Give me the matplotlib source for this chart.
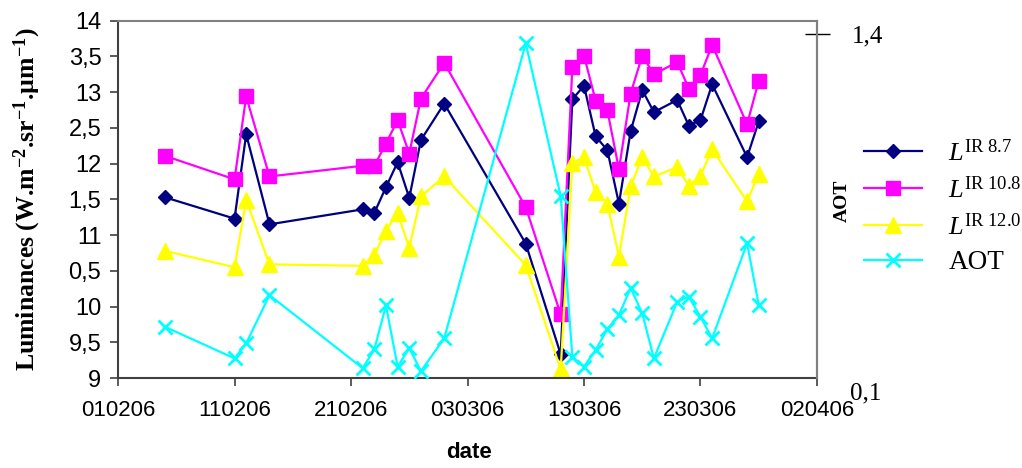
import matplotlib
matplotlib.use('Agg')

import matplotlib.pyplot as plt
import matplotlib.dates as mdates
from datetime import datetime
import numpy as np

plt.rcParams['font.family'] = 'Liberation Sans'
plt.rcParams['mathtext.fontset'] = 'custom'
plt.rcParams['mathtext.rm'] = 'Liberation Serif'
plt.rcParams['mathtext.it'] = 'Liberation Serif:italic'
plt.rcParams['mathtext.bf'] = 'Liberation Serif:bold'

# measurement dates (yyyy-mm-dd)
dates = ['2006-02-05', '2006-02-11', '2006-02-12', '2006-02-14', '2006-02-22',
         '2006-02-23', '2006-02-24', '2006-02-25', '2006-02-26', '2006-02-27',
         '2006-03-01', '2006-03-08', '2006-03-11', '2006-03-12', '2006-03-13',
         '2006-03-14', '2006-03-15', '2006-03-16', '2006-03-17', '2006-03-18',
         '2006-03-19', '2006-03-21', '2006-03-22', '2006-03-23', '2006-03-24',
         '2006-03-27', '2006-03-28']

l87 = [11.53, 11.23, 12.41, 11.15, 11.36, 11.31, 11.67, 12.02, 11.52, 12.33,
       12.84, 10.88, 9.33, 12.90, 13.09, 12.38, 12.19, 11.44, 12.45, 13.03,
       12.72, 12.89, 12.53, 12.61, 13.11, 12.09, 12.59]
l108 = [12.11, 11.78, 12.94, 11.82, 11.97, 11.97, 12.28, 12.61, 12.14, 12.91,
        13.41, 11.39, 9.89, 13.35, 13.51, 12.88, 12.75, 11.92, 12.98, 13.51,
        13.25, 13.42, 13.05, 13.24, 13.66, 12.55, 13.16]
l120 = [10.78, 10.55, 11.49, 10.59, 10.57, 10.72, 11.06, 11.31, 10.82, 11.54,
        11.82, 10.58, 9.12, 12.01, 12.09, 11.60, 11.44, 10.70, 11.68, 12.09,
        11.82, 11.95, 11.69, 11.83, 12.20, 11.47, 11.86]
aot = [0.294, 0.174, 0.231, 0.413, 0.137, 0.208, 0.374, 0.143, 0.213, 0.126,
       0.250, 1.364, 0.787, 0.180, 0.143, 0.206, 0.285, 0.338, 0.440, 0.344,
       0.174, 0.388, 0.407, 0.331, 0.250, 0.609, 0.376]

left_ticks = [9, 9.5, 10, 10.5, 11, 11.5, 12, 12.5, 13, 13.5, 14]
left_ticklabels = ['9', '9,5', '10', '0,5', '11', '1,5', '12', '2,5', '13', '3,5', '14']
labels = [r'$L^{\mathrm{IR\ 8.7}}$', r'$L^{\mathrm{IR\ 10.8}}$',
          r'$L^{\mathrm{IR\ 12.0}}$', 'AOT']

t = [datetime.strptime(d, '%Y-%m-%d') for d in dates]

fig = plt.figure(figsize=(10.22, 4.68), dpi=100)
ax = fig.add_axes([0.1155, 0.1923, 0.6839, 0.7635])
ax2 = ax.twinx()

h1, = ax.plot(t, l87, color='#000080', marker='D', ms=7, lw=1.6, label=labels[0])
h2, = ax.plot(t, l108, color='#FF00FF', marker='s', ms=10, lw=1.6, label=labels[1])
h3, = ax.plot(t, l120, color='#FFFF00', marker='^', ms=11, lw=1.6, label=labels[2],
              clip_on=False)
h4, = ax2.plot(t, aot, color='#00FFFF', marker='x', ms=10, mew=2, lw=1.6, label=labels[3])

ax.set_xlim(datetime(2006, 2, 1), datetime(2006, 4, 2))
ticks = [datetime(2006, 2, 1), datetime(2006, 2, 11), datetime(2006, 2, 21),
         datetime(2006, 3, 3), datetime(2006, 3, 13), datetime(2006, 3, 23),
         datetime(2006, 4, 2)]
ax.set_xticks(ticks)
ax.xaxis.set_major_formatter(mdates.DateFormatter('%d%m%y'))
ax.tick_params(axis='x', labelsize=16, length=6, width=1.2, color='#404040', pad=10)

ax.set_ylim(9, 14)
ax.set_yticks(left_ticks)
ax.set_yticklabels(left_ticklabels)
ax.tick_params(axis='y', labelsize=17, length=6, width=1.2, color='#404040', pad=6)

for side in ['left', 'bottom']:
    ax.spines[side].set_color('#404040')
    ax.spines[side].set_linewidth(1.5)
for side in ['top', 'right']:
    ax.spines[side].set_color('#808080')
    ax.spines[side].set_linewidth(1.5)

ax.set_ylabel('Luminances (W.m$^{\\mathbf{-2}}$.sr$^{\\mathbf{-1}}$.µm$^{\\mathbf{-1}}$)',
              family='Liberation Serif', fontweight='bold', fontsize=18.5)
ax.yaxis.set_label_coords(-0.108, 0.5)
ax.set_xlabel('date', fontweight='bold', fontsize=16)
ax.xaxis.set_label_coords(0.502, -0.18)

ax2.set_ylim(0.1, 1.45)
ax2.set_yticks([1.4])
ax2.set_yticklabels(['1,4'], family='Liberation Serif')
ax2.tick_params(axis='y', direction='inout', length=18, width=1, color='black',
                labelsize=18, pad=16)
for side in ['left', 'bottom', 'top']:
    ax2.spines[side].set_visible(False)
ax2.spines['right'].set_color('#808080')
ax2.spines['right'].set_linewidth(1.5)
ax2.annotate('0,1', xy=(1, 0.1), xycoords=('axes fraction', 'data'),
             xytext=(24, -11), textcoords='offset points', ha='left', va='center',
             family='Liberation Serif', fontsize=18)
ax2.set_ylabel('AOT', family='Liberation Serif', fontweight='bold', fontsize=14)
ax2.yaxis.set_label_coords(1.024, 0.495)

leg = fig.legend([h1, h2, h3, h4], labels, loc='upper left',
                 bbox_to_anchor=(864 / 1022, 1 - 139 / 468), frameon=False,
                 prop={'family': 'Liberation Serif', 'size': 19},
                 handlelength=2.2, handletextpad=1.0, labelspacing=0.4,
                 borderpad=0, borderaxespad=0)
leg.get_texts()[3].set_fontsize(19.5)

fig.savefig('out.png', dpi=100)
